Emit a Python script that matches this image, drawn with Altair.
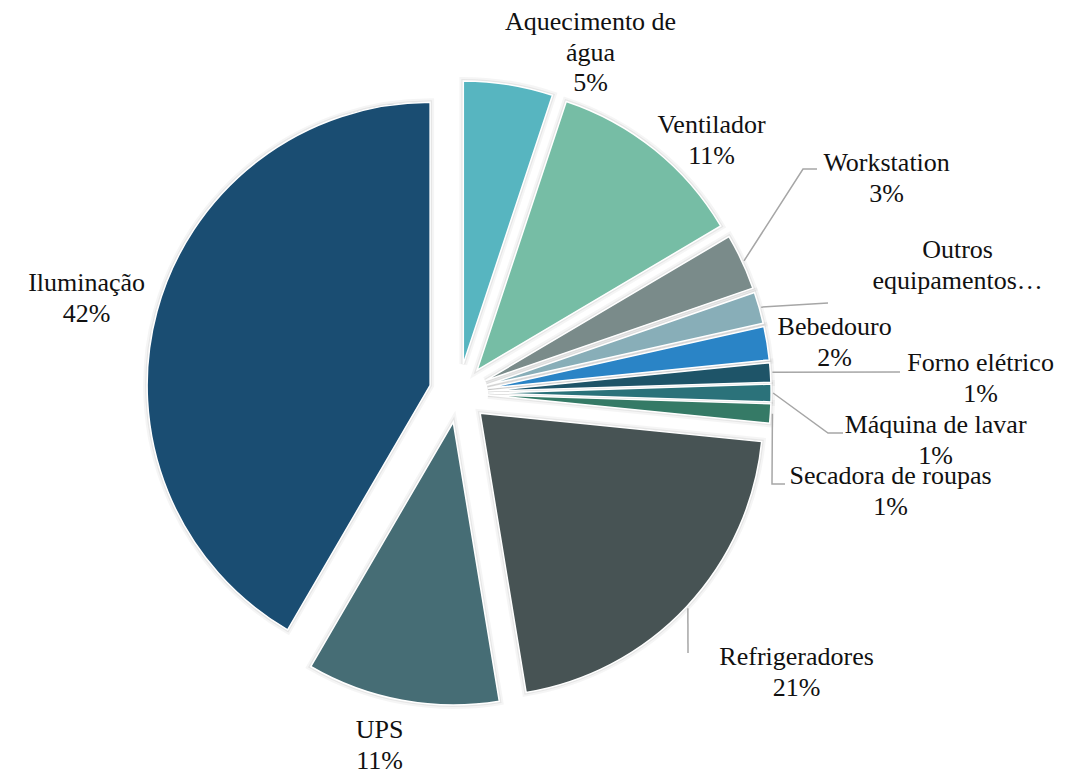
import math
import altair as alt
import pandas as pd

# ---------------- data ----------------
names = ["Aquecimento de água", "Ventilador", "Workstation", "Outros equipamentos",
         "Bebedouro", "Forno elétrico", "Máquina de lavar", "Secadora de roupas",
         "Refrigeradores", "UPS", "Iluminação"]
shares = [5.1, 11.4, 3.2, 1.8, 1.9, 1.1, 1.0, 1.1, 20.8, 11.0, 41.6]
label_lines = ["Aquecimento de\nágua", "Ventilador", "Workstation", "Outros\nequipamentos…",
               "Bebedouro", "Forno elétrico", "Máquina de lavar", "Secadora de roupas",
               "Refrigeradores", "UPS", "Iluminação"]
show_pct = [True, True, True, False, True, True, True, True, True, True, True]
colors = ["#57B5C0", "#76BDA5", "#7A8B8A", "#88AEB8", "#2A84C6", "#1E5468",
          "#2B727A", "#357A66", "#475354", "#466D75", "#1A4D72"]

# ---------------- layout ----------------
CX, CY = 450.6, 385.0     # pie centre (chart pixels)
R = 283                   # radius
D = 29.5                  # explode distance
LH = 30.5                 # label line height
# offsets of each label's first line from the pie centre
label_dx = [132, 253, 428, 499, 376, 522, 477, 432, 338, -79, -372]
label_dy = [-371, -268, -230, -143, -66, -30, 32, 83, 264, 337, -110]
leader_pts = {
    "Workstation": [(344.4, -224), (358.4, -224)],
    "Outros equipamentos": [(369.4, -90)],
    "Forno elétrico": [(441.4, -21)],
    "Máquina de lavar": [(369.4, 40), (384.4, 40)],
    "Secadora de roupas": [(313.4, 91), (326.4, 91)],
    "Refrigeradores": [(229.4, 260)],
}

total = sum(shares)
rows = []
cum = 0.0
for i, (n, s) in enumerate(zip(names, shares)):
    start = cum
    end = cum + s
    cum = end
    mid = 2 * math.pi * (start + s / 2) / total
    rows.append(dict(name=n, share=s, start=start, end=end, mid=mid,
                     px=CX + D * math.sin(mid), py=CY - D * math.cos(mid)))
slices = pd.DataFrame(rows)

lab_rows = []
for i, n in enumerate(names):
    txt = label_lines[i] + (f"\n{round(shares[i])}%" if show_pct[i] else "")
    lab_rows.append(dict(name=n, text=txt, lx=CX + label_dx[i], ly=CY + label_dy[i]))
labels = pd.DataFrame(lab_rows)

lead_rows = []
for n, pts in leader_pts.items():
    r0 = slices[slices.name == n].iloc[0]
    sx = r0.px + (R + 2) * math.sin(r0.mid)
    sy = r0.py - (R + 2) * math.cos(r0.mid)
    lead_rows.append(dict(name=n, idx=0, x=sx, y=sy))
    for k, (dx, dy) in enumerate(pts):
        lead_rows.append(dict(name=n, idx=k + 1, x=CX + dx, y=CY + dy))
leaders = pd.DataFrame(lead_rows)

theta_scale = alt.Scale(domain=[0, total], range=[0, 2 * math.pi])
X = alt.X("px:Q", scale=None, axis=None)
Y = alt.Y("py:Q", scale=None, axis=None)

base = alt.Chart(slices).encode(
    x=X, y=Y,
    theta=alt.Theta("start:Q", scale=theta_scale, stack=False),
    theta2="end:Q",
)

shadow1 = base.mark_arc(outerRadius=R, fill="#000000", fillOpacity=0,
                        stroke="#000000", strokeOpacity=0.04, strokeWidth=8)
shadow2 = base.mark_arc(outerRadius=R, fill="#000000", fillOpacity=0,
                        stroke="#000000", strokeOpacity=0.06, strokeWidth=4)

arcs = base.mark_arc(outerRadius=R, stroke="white", strokeWidth=1.5).encode(
    color=alt.Color("name:N", scale=alt.Scale(domain=names, range=colors), legend=None)
)

lines = alt.Chart(leaders).mark_line(color="#A6A6A6", strokeWidth=1.5).encode(
    x=alt.X("x:Q", scale=None, axis=None),
    y=alt.Y("y:Q", scale=None, axis=None),
    detail="name:N",
    order="idx:Q",
)

texts = alt.Chart(labels).mark_text(
    font="Times New Roman", fontSize=26, lineBreak="\n",
    lineHeight=LH, align="center", baseline="middle", color="#111111",
).encode(
    x=alt.X("lx:Q", scale=None, axis=None),
    y=alt.Y("ly:Q", scale=None, axis=None),
    text="text:N",
)

chart = alt.layer(shadow1, shadow2, arcs, lines, texts).properties(
    width=1050, height=755, padding=0, background="white"
).configure_view(strokeWidth=0).configure_text(font="Times New Roman")

chart.save("out.html", embed_options={"renderer": "svg", "actions": False})
